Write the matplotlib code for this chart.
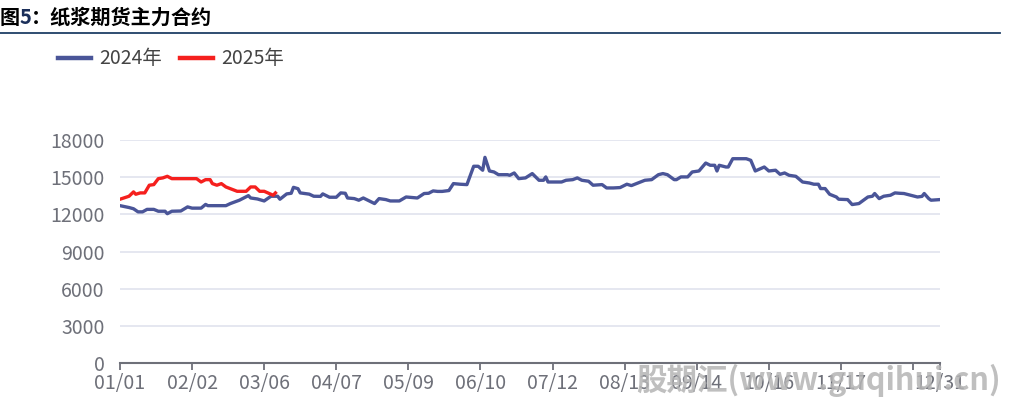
import matplotlib
matplotlib.use("Agg")
import matplotlib.pyplot as plt
import pandas as pd

plt.rcParams['font.family'] = ['Noto Sans CJK SC', 'DejaVu Sans']

title = "纸浆期货主力合约"
series_names = ["2024年", "2025年"]

# day-of-year index (0 = 01/01) and contract price
days_2024 = [0, 4, 6, 8, 10, 12, 15, 17, 20, 21, 23, 27, 30, 32, 36, 38, 39, 47, 49, 53,
             57, 58, 61, 64, 67, 70, 71, 74, 76, 77, 79, 80, 84, 86, 89, 90, 93, 96, 98, 100,
             101, 104, 106, 108, 110, 113, 115, 118, 120, 124, 127, 132, 135, 137, 139, 141, 143, 146, 148, 151,
             154, 157, 159, 161, 162, 164, 166, 168, 172, 173, 175, 177, 180, 183, 186, 188, 189, 190, 196, 198,
             201, 203, 205, 208, 210, 214, 216, 219, 222, 225, 227, 231, 233, 236, 239, 241, 243, 246, 247, 249,
             252, 254, 257, 260, 262, 264, 265, 266, 269, 270, 272, 278, 280, 282, 286, 288, 291, 293, 295, 297,
             300, 303, 306, 308, 310, 311, 313, 315, 318, 319, 323, 325, 328, 332, 334, 335, 337, 339, 342, 344,
             346, 348, 351, 354, 356, 357, 359, 360, 364]
price_2024 = [12700, 12550, 12450, 12200, 12200, 12400, 12400, 12250, 12250, 12050, 12250, 12270, 12600, 12500, 12500, 12800, 12700, 12700, 12870, 13140,
              13510, 13320, 13240, 13080, 13460, 13460, 13220, 13650, 13700, 14180, 14070, 13730, 13630, 13460, 13450, 13650, 13380, 13380, 13730, 13700,
              13320, 13270, 13140, 13320, 13140, 12870, 13270, 13190, 13080, 13080, 13400, 13320, 13680, 13700, 13890, 13850, 13850, 13920, 14480, 14430,
              14400, 15880, 15880, 15560, 16600, 15500, 15420, 15200, 15200, 15150, 15340, 14880, 14940, 15290, 14750, 14750, 15020, 14610, 14610, 14750,
              14800, 14940, 14750, 14670, 14350, 14400, 14130, 14130, 14160, 14430, 14320, 14610, 14750, 14800, 15200, 15290, 15200, 14800, 14800, 15020,
              15020, 15420, 15500, 16140, 15960, 15960, 15500, 15960, 15820, 15820, 16490, 16490, 16360, 15500, 15820, 15500, 15560, 15230, 15340, 15150,
              15070, 14610, 14530, 14430, 14430, 14080, 14080, 13620, 13400, 13220, 13190, 12790, 12870, 13400, 13460, 13680, 13270, 13460, 13540, 13730,
              13700, 13680, 13540, 13400, 13450, 13680, 13270, 13140, 13190]

days_2025 = [0, 3, 4, 6, 7, 9, 11, 13, 15, 17, 19, 21, 23, 34, 36, 38, 40, 41, 43, 45,
             47, 52, 56, 58, 60, 62, 64, 68, 69]
price_2025 = [13220, 13400, 13460, 13810, 13620, 13730, 13730, 14350, 14400, 14880, 14940, 15070, 14880, 14880, 14610, 14800, 14800, 14480, 14350, 14480,
              14210, 13860, 13860, 14210, 14210, 13860, 13860, 13540, 13730]

tick_dates = ["01/01", "02/02", "03/06", "04/07", "05/09", "06/10", "07/12", "08/13",
              "09/14", "10/16", "11/17", "12/19", "12/31"]
hidden_tick_labels = ["12/19"]
y_ticks = [0, 3000, 6000, 9000, 12000, 15000, 18000]

color_2024 = "#4A5598"
color_2025 = "#F5201E"
axis_color = "#6E7079"
grid_color = "#E0E3EE"

fig = plt.figure(figsize=(10.23, 4.08), dpi=100)
ax = fig.add_axes([120 / 1023, 1 - 363 / 408, 820 / 1023, 223 / 408])

ax.plot(days_2024, price_2024, color=color_2024, lw=2.4, solid_joinstyle="round", zorder=3)
ax.plot(days_2025, price_2025, color=color_2025, lw=2.4, solid_joinstyle="round", zorder=4)

ax.set_xlim(0, 364)
ax.set_ylim(0, 18000)
ax.set_yticks(y_ticks)
ax.set_yticklabels([str(v) for v in y_ticks])
ax.grid(axis="y", color=grid_color, lw=1.2)
ax.set_axisbelow(True)

tick_pos = [pd.Timestamp("2025/" + d).dayofyear - 1 for d in tick_dates]
ax.set_xticks(tick_pos)
ax.set_xticklabels(["" if d in hidden_tick_labels else d for d in tick_dates])

for s in ["top", "right", "left"]:
    ax.spines[s].set_visible(False)
ax.spines["bottom"].set_color(axis_color)
ax.spines["bottom"].set_linewidth(1.5)
ax.tick_params(axis="y", length=0, pad=11, labelsize=14, labelcolor=axis_color)
ax.tick_params(axis="x", length=5, width=1.3, color=axis_color, pad=2, labelsize=14, labelcolor=axis_color)

# Title and rule
ty = 1 - 17 / 408
fig.text(0.0, ty, "图", fontsize=14.5, fontweight="bold", color="black", va="center", ha="left")
fig.text(20 / 1023, ty, "5", fontsize=14.5, fontweight="bold", color="#1B2F5A", va="center", ha="left")
fig.text(31 / 1023, ty, "：" + title, fontsize=14.5, fontweight="bold", color="black", va="center", ha="left")
fig.add_artist(plt.Line2D([0, 1000 / 1023], [1 - 33 / 408, 1 - 33 / 408], color="#1F3F66", lw=1.3,
                          transform=fig.transFigure))

# Legend
leg_y = 1 - 58 / 408
for (x0, x1, xt), name, c in zip([(58, 91, 99), (180, 213, 221)], series_names, [color_2024, color_2025]):
    fig.add_artist(plt.Line2D([x0 / 1023, x1 / 1023], [leg_y, leg_y], color=c, lw=3.2,
                              transform=fig.transFigure))
    fig.text(xt / 1023, leg_y, name, fontsize=14, color="#444444", va="center", ha="left")

# Watermark
fig.text(818 / 1023, 1 - 380 / 408, "股期汇(www.guqihui.cn)", fontsize=22, fontweight="bold",
         style="italic", color="#B4B4B4", alpha=0.85, ha="center", va="center", zorder=10)

fig.savefig("out.png", dpi=100)
